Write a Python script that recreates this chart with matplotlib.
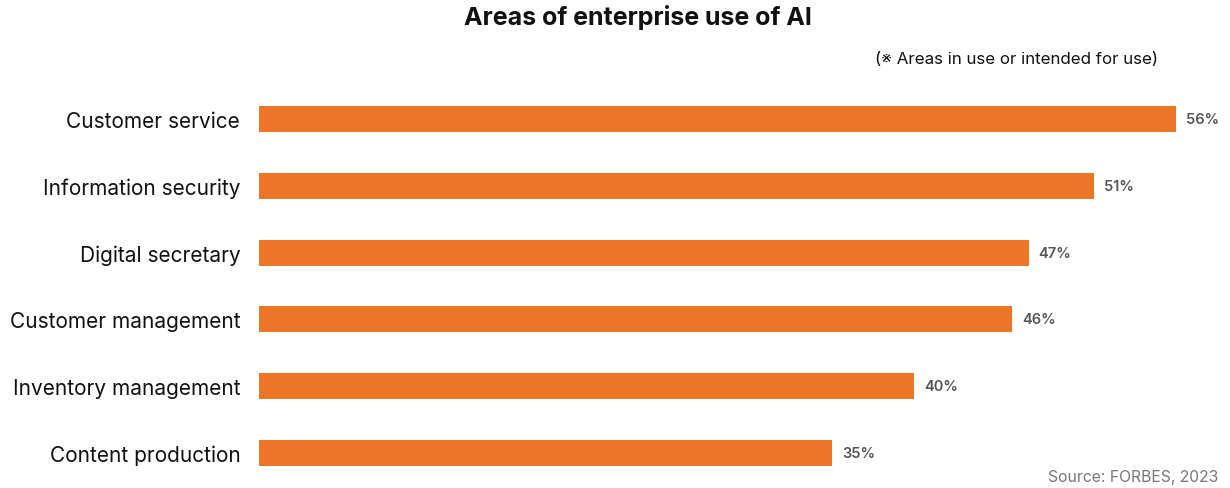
import matplotlib.pyplot as plt

plt.rcParams["font.family"] = ["Inter", "Noto Sans CJK KR", "DejaVu Sans"]

categories = [
    "Customer service",
    "Information security",
    "Digital secretary",
    "Customer management",
    "Inventory management",
    "Content production",
]
shares = [56, 51, 47, 46, 40, 35]

BAR_COLOR = "#EC7628"

fig = plt.figure(figsize=(12.3, 4.89), dpi=100)
ax = fig.add_axes([259 / 1230, 1 - 487.4 / 489, (1176 - 259) / 1230, (487.4 - 86.6) / 489])

ypos = list(range(len(categories)))
ax.barh(ypos, shares, height=0.39, color=BAR_COLOR)
ax.set_xlim(0, max(shares))
ax.set_ylim(len(categories) - 0.5, -0.5)

for y, v in zip(ypos, shares):
    ax.text(v + 0.6, y, f"{v}%", ha="left", va="center", fontsize=10.5,
            fontweight="semibold", color="#555555", clip_on=False)

ax.set_yticks(ypos)
ax.set_yticklabels(categories, fontsize=15, color="#111111")
ax.tick_params(axis="y", length=0, pad=13.5)
ax.set_xticks([])
for s in ax.spines.values():
    s.set_visible(False)

fig.text(638 / 1230, 1 - 18 / 489, "Areas of enterprise use of AI", ha="center", va="center",
         fontsize=18, fontweight="bold", color="#111111")
fig.text(1158 / 1230, 1 - 60 / 489, "(※ Areas in use or intended for use)", ha="right",
         va="center", fontsize=12.2, color="#111111")
fig.text(1218 / 1230, 1 - 478 / 489, "Source: FORBES, 2023", ha="right", va="center",
         fontsize=11.3, color="#777777")

fig.savefig("out.png", dpi=100)
